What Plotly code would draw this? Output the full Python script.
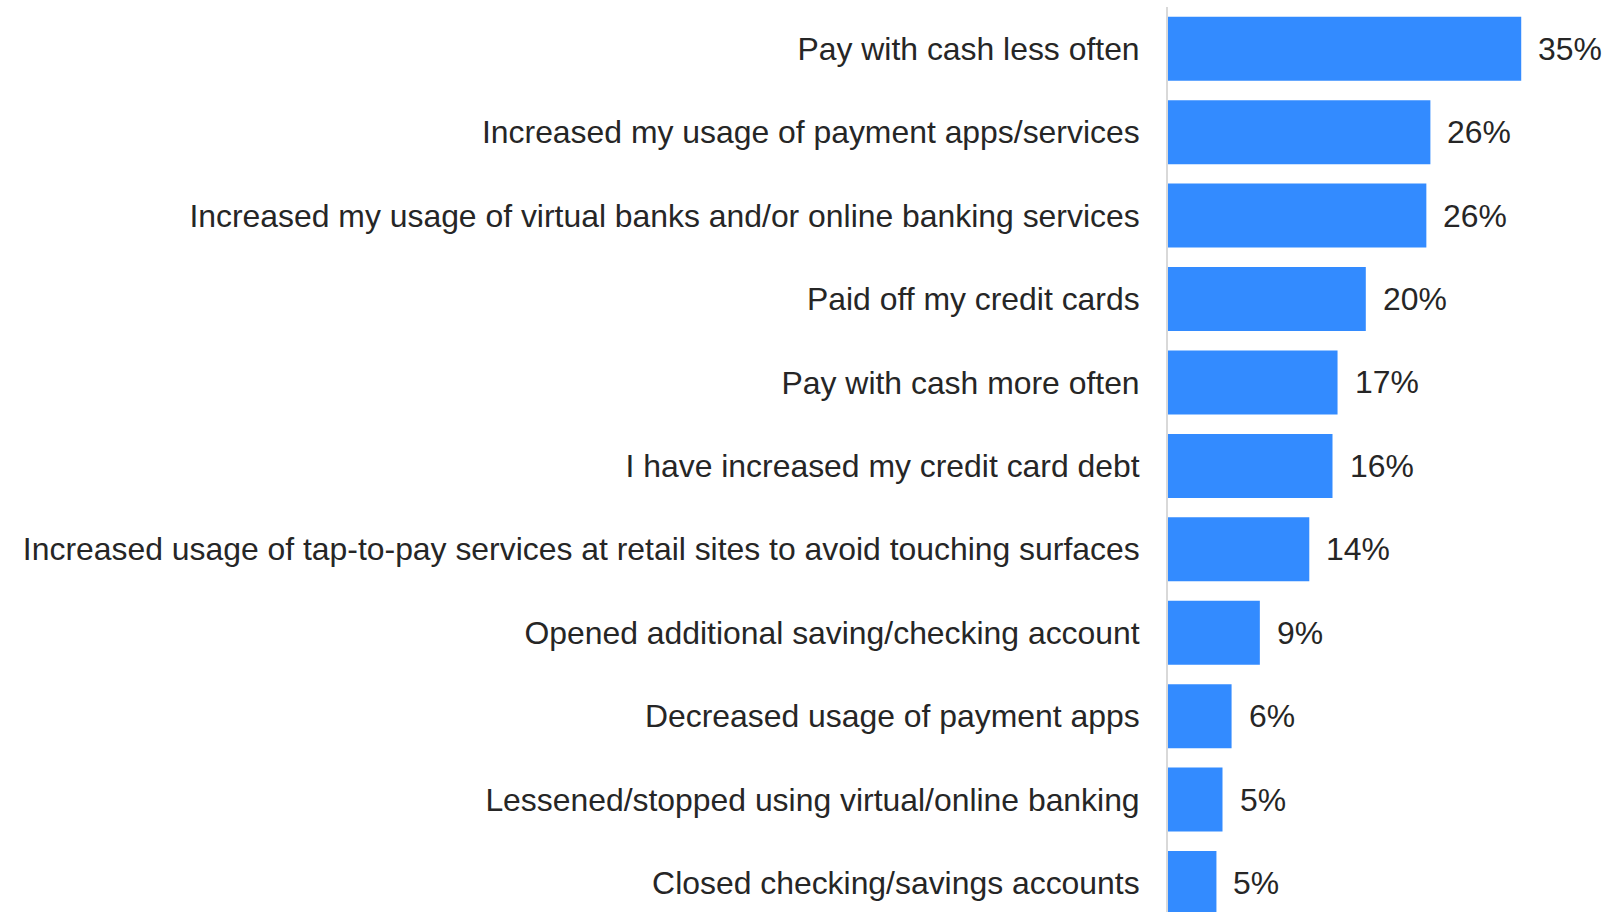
import plotly.graph_objects as go

# Survey responses, top to bottom
categories = [
    "Pay with cash less often",
    "Increased my usage of payment apps/services",
    "Increased my usage of virtual banks and/or online banking services",
    "Paid off my credit cards",
    "Pay with cash more often",
    "I have increased my credit card debt",
    "Increased usage of tap-to-pay services at retail sites to avoid touching surfaces",
    "Opened additional saving/checking account",
    "Decreased usage of payment apps",
    "Lessened/stopped using virtual/online banking",
    "Closed checking/savings accounts",
]
shares = [35.0, 26.0, 25.6, 19.6, 16.8, 16.3, 14.0, 9.1, 6.3, 5.4, 4.8]

BAR_COLOR = "#338bff"
TEXT_COLOR = "#262626"
FONT = "Liberation Sans, Arial, sans-serif"
FONT_SIZE = 31.9

fig = go.Figure(
    go.Bar(
        x=shares,
        y=categories,
        orientation="h",
        marker=dict(color=BAR_COLOR, line=dict(width=0)),
        hoverinfo="skip",
    )
)

# Percentage labels to the right of each bar
for cat, val in zip(categories, shares):
    fig.add_annotation(
        x=val, y=cat, text=f"{val:.0f}%", showarrow=False,
        xanchor="left", yanchor="middle", xshift=15,
        font=dict(family=FONT, size=FONT_SIZE, color=TEXT_COLOR),
    )

fig.update_layout(
    width=1607, height=912,
    margin=dict(l=1168, r=0, t=7, b=0),
    paper_bgcolor="white", plot_bgcolor="white",
    bargap=0.233,
    showlegend=False,
    font=dict(family=FONT, size=FONT_SIZE, color=TEXT_COLOR),
)
fig.update_xaxes(
    range=[0, 43.5], visible=False, showgrid=False, zeroline=False,
)
fig.update_yaxes(
    categoryorder="array", categoryarray=categories,
    range=[10.347, -0.5],
    showgrid=False, zeroline=False,
    showline=True, linecolor="#d9d9d9", linewidth=2,
    ticks="outside", ticklen=20, tickcolor="rgba(0,0,0,0)",
    tickfont=dict(family=FONT, size=FONT_SIZE, color=TEXT_COLOR),
    automargin=False,
)

fig.write_html("out.html")
